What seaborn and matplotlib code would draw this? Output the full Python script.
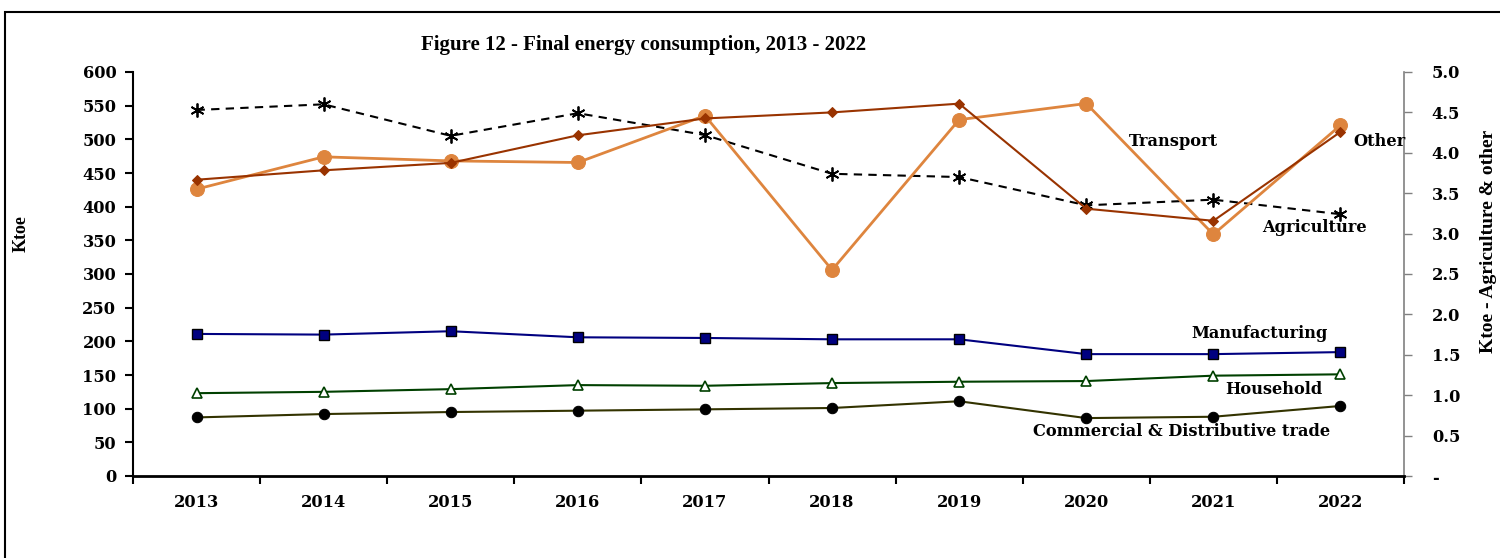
import matplotlib
matplotlib.use("Agg")
import matplotlib.pyplot as plt
import matplotlib.patches as mpatches
from matplotlib.ticker import FuncFormatter, FixedLocator, MultipleLocator
import seaborn as sns
import pandas as pd

# Final energy consumption by sector (ktoe)
years = ["2013", "2014", "2015", "2016", "2017", "2018", "2019", "2020", "2021", "2022"]
transport = [440, 454, 465, 506, 531, 540, 553, 397, 379, 511]
manufacturing = [211, 210, 215, 206, 205, 203, 203, 181, 181, 184]
household = [123, 125, 129, 135, 134, 138, 140, 141, 149, 151]
commercial = [87, 92, 95, 97, 99, 101, 111, 86, 88, 104]
# Secondary axis series (ktoe)
agriculture = [4.53, 4.60, 4.21, 4.49, 4.22, 3.74, 3.70, 3.35, 3.42, 3.24]
other = [3.55, 3.95, 3.90, 3.88, 4.46, 2.55, 4.41, 4.61, 2.99, 4.34]

sns.set_style("white")
plt.rcParams["font.family"] = ["Liberation Serif", "DejaVu Serif"]
plt.rcParams["font.weight"] = "bold"
for key in ("text.color", "axes.labelcolor", "xtick.labelcolor", "ytick.labelcolor"):
    plt.rcParams[key] = "black"

WIDE = ["DejaVu Serif"]

fig = plt.figure(figsize=(15, 5.58), dpi=100)
ax = fig.add_axes([133 / 1500, 1 - 476 / 558, (1404 - 133) / 1500, (476 - 72) / 558])
ax2 = ax.twinx()

idx = list(range(len(years)))
left = pd.DataFrame({"i": idx, "Transport": transport, "Manufacturing": manufacturing,
                     "Household": household, "Commercial": commercial})
right = pd.DataFrame({"i": idx, "Agriculture": agriculture, "Other": other})

# Secondary axis lines
sns.lineplot(data=right, x="i", y="Agriculture", ax=ax2, color="black", lw=1.5,
             linestyle=(0, (4, 3)), marker=(6, 2, 0), markersize=10,
             markeredgewidth=1.3, markeredgecolor="black", zorder=3)
sns.lineplot(data=right, x="i", y="Other", ax=ax2, color="#DE853E", lw=2.0,
             marker="o", markersize=10, markeredgecolor="#DE853E", zorder=4)

# Primary axis lines
sns.lineplot(data=left, x="i", y="Transport", ax=ax, color="#993300", lw=1.5,
             marker="D", markersize=5.5, markeredgecolor="#993300", zorder=3)
sns.lineplot(data=left, x="i", y="Manufacturing", ax=ax, color="#000080", lw=1.5,
             marker="s", markersize=7.5, markeredgecolor="black", markeredgewidth=1.0, zorder=3)
sns.lineplot(data=left, x="i", y="Household", ax=ax, color="#004000", lw=1.5,
             marker="^", markersize=7, markerfacecolor="white", markeredgecolor="#004000",
             markeredgewidth=1.2, zorder=3)
sns.lineplot(data=left, x="i", y="Commercial", ax=ax, color="#333300", lw=1.5,
             marker="o", markersize=7.5, markerfacecolor="black", markeredgecolor="black", zorder=3)

ax.set_zorder(ax2.get_zorder() + 1)
ax.patch.set_visible(False)

for a in (ax, ax2):
    a.set_xlim(-0.5, len(years) - 0.5)
    a.set_xlabel("")

ax.set_ylim(0, 600)
ax.yaxis.set_major_locator(MultipleLocator(50))
ax2.set_ylim(0, 5.0)
ax2.yaxis.set_major_locator(MultipleLocator(0.5))
ax2.yaxis.set_major_formatter(FuncFormatter(lambda v, p: "-" if abs(v) < 1e-9 else f"{v:.1f}"))

# Category labels centred, tick marks on category boundaries
ax.set_xticks(idx)
ax.set_xticklabels(years)
ax.xaxis.set_minor_locator(FixedLocator([i - 0.5 for i in range(len(years) + 1)]))
ax.tick_params(axis="x", which="major", length=0, pad=13)
ax.tick_params(axis="x", which="minor", length=6, width=1.5, color="black", direction="out",
               bottom=True)
ax.tick_params(axis="y", length=6, width=1.5, color="black", direction="out", left=True, pad=6)
ax2.tick_params(axis="y", length=6, width=1.0, color="#808080", direction="out", right=True,
                pad=14)
ax2.tick_params(axis="x", length=0)
for lbl in ax.get_xticklabels() + ax.get_yticklabels() + ax2.get_yticklabels():
    lbl.set_fontfamily(WIDE)
    lbl.set_fontsize(11.7)
    lbl.set_fontweight("bold")

for sp in ("top", "right"):
    ax.spines[sp].set_visible(False)
ax.spines["left"].set_color("black")
ax.spines["left"].set_linewidth(1.5)
ax.spines["bottom"].set_color("black")
ax.spines["bottom"].set_linewidth(2.0)
for sp in ("top", "left", "bottom"):
    ax2.spines[sp].set_visible(False)
ax2.spines["right"].set_color("#808080")
ax2.spines["right"].set_linewidth(1.2)

ax.set_ylabel("Ktoe", fontsize=13, fontweight="bold")
ax.yaxis.set_label_coords(-0.081, 0.6)
ax2.set_ylabel("Ktoe - Agriculture & other", fontsize=14, fontweight="bold")
ax2.yaxis.set_label_coords(1.06, 0.58)

# Series labels
lab = dict(fontsize=11.7, fontweight="bold", color="black", family=WIDE,
           transform=fig.transFigure, ha="center", va="center")
fig.text(1173 / 1500, 1 - 141 / 558, "Transport", **lab)
fig.text(1379 / 1500, 1 - 141 / 558, "Other", **lab)
fig.text(1314 / 1500, 1 - 227 / 558, "Agriculture", **lab)
fig.text(1260 / 1500, 1 - 333 / 558, "Manufacturing", **lab)
fig.text(1274 / 1500, 1 - 389 / 558, "Household", **lab)
fig.text(1182 / 1500, 1 - 432 / 558, "Commercial & Distributive trade", **lab)

fig.text(644 / 1500, 1 - 45 / 558, "Figure 12 - Final energy consumption, 2013 - 2022",
         ha="center", va="center", fontsize=15, fontweight="bold")

# Chart-area border
fig.patches.append(mpatches.Rectangle((5 / 1500, -0.2), 2.0, 1.2 - 12 / 558,
                                      transform=fig.transFigure, fill=False,
                                      edgecolor="black", linewidth=1.5, clip_on=False))

fig.savefig("out.png", dpi=100)
